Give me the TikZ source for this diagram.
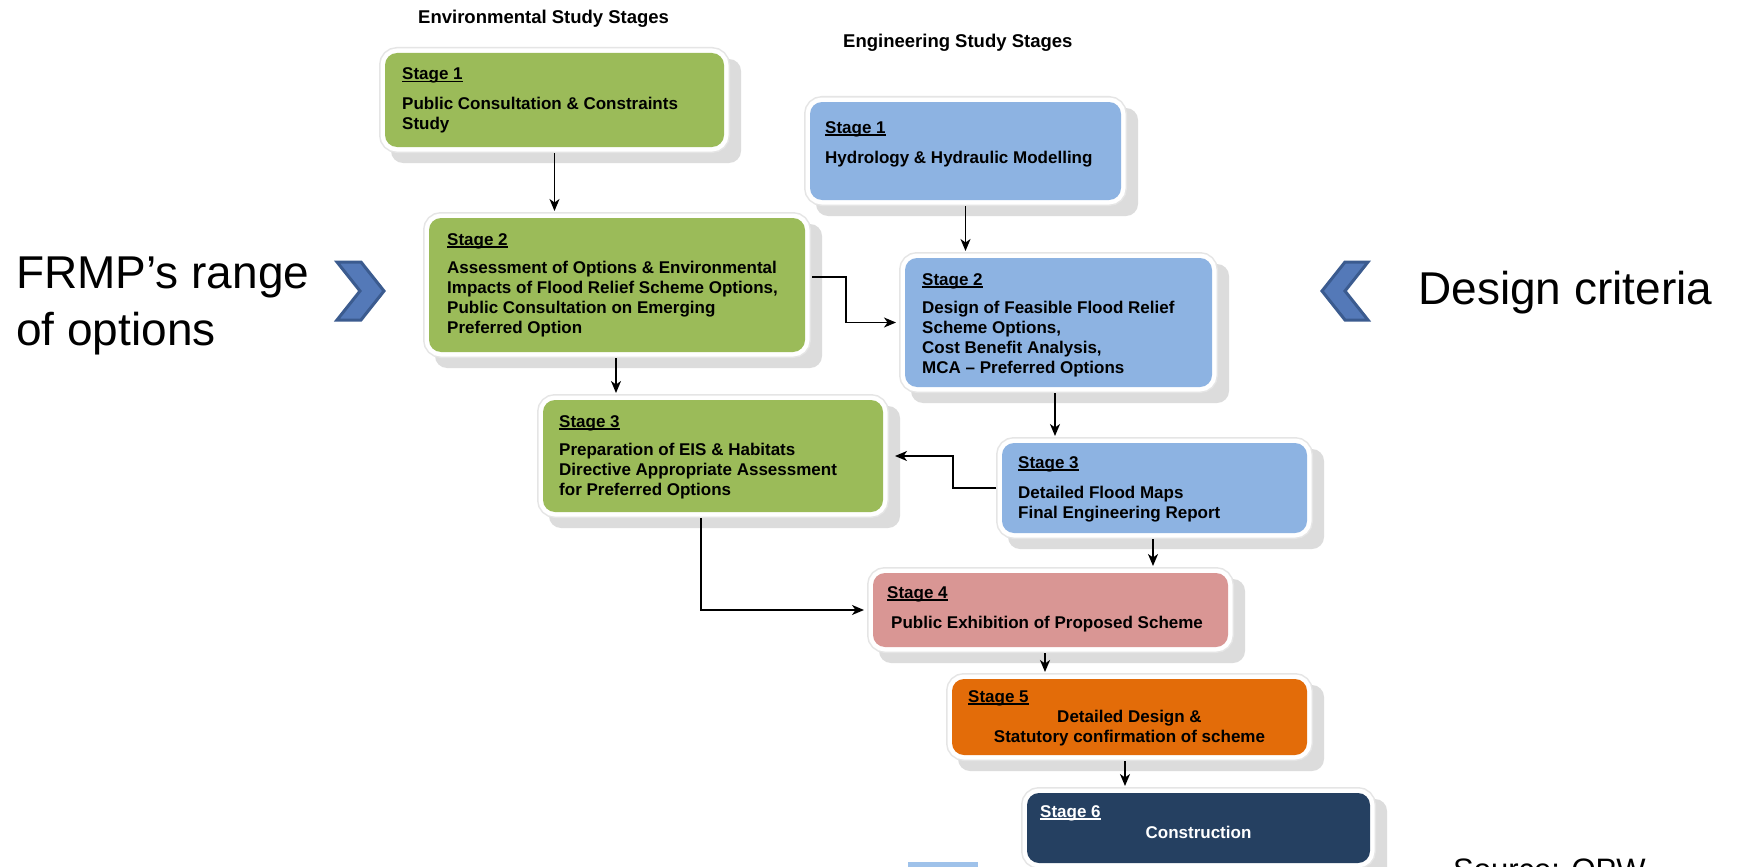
\documentclass[tikz,border=0pt]{standalone}
\usepackage{fontspec}
\setmainfont{Liberation Sans}
\usetikzlibrary{arrows.meta,calc}
\definecolor{envgreen}{HTML}{9BBB59}
\definecolor{engblue}{HTML}{8DB3E2}
\definecolor{pinkbox}{HTML}{D99694}
\definecolor{orangebox}{HTML}{E36C09}
\definecolor{navybox}{HTML}{254061}
\definecolor{shadowc}{HTML}{DCDCDC}
\definecolor{chevfill}{HTML}{5479B8}
\definecolor{chevline}{HTML}{3B5B8F}
\definecolor{legendblue}{HTML}{9FC2EA}
\newcommand\stg[1]{\setbox0\hbox{#1}\rlap{\rule[-2.5pt]{\wd0}{1.4pt}}\box0}
\newcommand\leftlines[1]{\begin{tabular}[t]{@{}l@{}}#1\end{tabular}}
\newcommand\midlines[1]{\begin{tabular}[t]{@{}c@{}}#1\end{tabular}}
\newcommand\stagebox[6]{%
  \fill[shadowc, rounded corners=12pt] ({#2+6},{#3+6}) rectangle ({#2+#4+17},{#3+#5+16});
  \node[stagebase, fill=#6, minimum width=#4pt, minimum height=#5pt] (#1) at (#2,#3) {};}
\tikzset{
  stagebase/.style={anchor=north west, inner sep=0pt, outer sep=0pt, rounded corners=12pt,
    preaction={draw=black!10, line width=12pt}, preaction={draw=white, line width=9pt}},
  stext/.style={anchor=base west, inner sep=0pt, font=\bfseries\fontsize{17}{20}\selectfont},
  ctext/.style={anchor=base, inner sep=0pt, font=\bfseries\fontsize{17}{20}\selectfont},
  arr/.style={line width=1.5pt, -{Stealth[length=12pt,width=10pt,inset=3.5pt]}, shorten <=6pt, shorten >=7pt},
  bigtext/.style={anchor=base west, inner sep=0pt, font=\fontsize{46}{52}\selectfont},
  titletext/.style={anchor=base west, inner sep=0pt, font=\bfseries\fontsize{18.5}{22}\selectfont},
  chev/.style={fill=chevfill, draw=chevline, line width=3pt, line join=miter}
}
\begin{document}
\begin{tikzpicture}[x=1pt,y=-1pt]
\useasboundingbox (0,0) rectangle (1741,867);
\fill[white] (0,0) rectangle (1741,867);

% titles
\node[titletext] (envtitle) at (418,24) {Environmental Study Stages};
\node[titletext] (engtitle) at (843,48) {Engineering Study Stages};

% boxes
\stagebox{es1}{385}{53}{339}{94}{envgreen}
\stagebox{ns1}{810}{102}{311}{98}{engblue}
\stagebox{es2}{429}{218}{376}{134}{envgreen}
\stagebox{ns2}{905}{258}{307}{129}{engblue}
\stagebox{es3}{543}{400}{340}{112}{envgreen}
\stagebox{ns3}{1002}{443}{305}{90}{engblue}
\stagebox{s4}{873}{573}{355}{74}{pinkbox}
\stagebox{s5}{952}{679}{355}{76}{orangebox}
\stagebox{s6}{1027}{793}{343}{70}{navybox}

% box texts
\node[stext] (es1a) at ($(es1.north west)+(17,27)$) {\stg{Stage 1}};
\node[stext] (es1b) at ($(es1.north west)+(17,57)$) {\leftlines{Public Consultation \& Constraints\\Study}};
\node[stext] (ns1a) at ($(ns1.north west)+(15,31)$) {\stg{Stage 1}};
\node[stext] (ns1b) at ($(ns1.north west)+(15,61)$) {Hydrology \& Hydraulic Modelling};
\node[stext] (es2a) at ($(es2.north west)+(18,27)$) {\stg{Stage 2}};
\node[stext] (es2b) at ($(es2.north west)+(18,55)$) {\leftlines{Assessment of Options \& Environmental\\Impacts of Flood Relief Scheme Options,\\Public Consultation on Emerging\\Preferred Option}};
\node[stext] (ns2a) at ($(ns2.north west)+(17,27)$) {\stg{Stage 2}};
\node[stext] (ns2b) at ($(ns2.north west)+(17,55)$) {\leftlines{Design of Feasible Flood Relief\\Scheme Options,\\Cost Benefit Analysis,\\MCA -- Preferred Options}};
\node[stext] (es3a) at ($(es3.north west)+(16,27)$) {\stg{Stage 3}};
\node[stext] (es3b) at ($(es3.north west)+(16,55)$) {\leftlines{Preparation of EIS \& Habitats\\Directive Appropriate Assessment\\for Preferred Options}};
\node[stext] (ns3a) at ($(ns3.north west)+(16,25)$) {\stg{Stage 3}};
\node[stext] (ns3b) at ($(ns3.north west)+(16,55)$) {\leftlines{Detailed Flood Maps\\Final Engineering Report}};
\node[stext] (s4a) at ($(s4.north west)+(14,25)$) {\stg{Stage 4}};
\node[stext] (s4b) at ($(s4.north west)+(18,55)$) {Public Exhibition of Proposed Scheme};
\node[stext] (s5a) at ($(s5.north west)+(16,23)$) {\stg{Stage 5}};
\node[ctext] (s5b) at ($(s5.north)+(0,43)$) {\midlines{Detailed Design \&\\Statutory confirmation of scheme}};
\node[stext, text=white] (s6a) at ($(s6.north west)+(13,24)$) {\stg{Stage 6}};
\node[ctext, text=white] (s6b) at ($(s6.north)+(0,45)$) {Construction};

% connectors
\draw[arr] (es1.south) -- (es1.south |- es2.north);
\draw[arr] (ns1.south) -- (ns1.south |- ns2.north);
\draw[arr, shorten <=7pt, shorten >=9pt] ([yshift=8pt]es2.east) -- ++(41,0) |- (ns2.west);
\coordinate (c4) at ($(es3.north west)+(73,0)$);
\draw[arr] (c4 |- es2.south) -- (c4);
\coordinate (c5) at ($(ns3.north west)+(53,0)$);
\draw[arr] (c5 |- ns2.south) -- (c5);
\draw[arr, shorten >=12pt] (ns3.west) -- ++(-49,0) |- (es3.east);
\coordinate (c7) at ($(s4.north west)+(280,0)$);
\draw[arr] (c7 |- ns3.south) -- (c7);
\coordinate (c8) at ($(es3.south west)+(158,0)$);
\draw[arr, shorten >=9pt] (c8) |- (s4.west);
\coordinate (c9) at ($(s5.north west)+(93,0)$);
\draw[arr] (c9 |- s4.south) -- (c9);
\coordinate (c10) at ($(s6.north west)+(98,0)$);
\draw[arr] (c10 |- s5.south) -- (c10);

% side labels
\node[bigtext] (frmp1) at (16,288) {FRMP’s range};
\node[bigtext] (frmp2) at (16,345) {of options};
\filldraw[chev] (337,262) -- (361,262) -- (384,291) -- (361,320) -- (337,320) -- (360,291) -- cycle;
\node[bigtext] (design) at (1418,304) {Design criteria};
\filldraw[chev] (1368,262) -- (1345,262) -- (1322,291) -- (1345,320) -- (1368,320) -- (1345,291) -- cycle;

% bottom
\fill[legendblue] (908,862) rectangle (978,870);
\node[anchor=base west, inner sep=0pt, font=\fontsize{31}{36}\selectfont] (source) at (1453,880) {Source: OPW};
\end{tikzpicture}
\end{document}
